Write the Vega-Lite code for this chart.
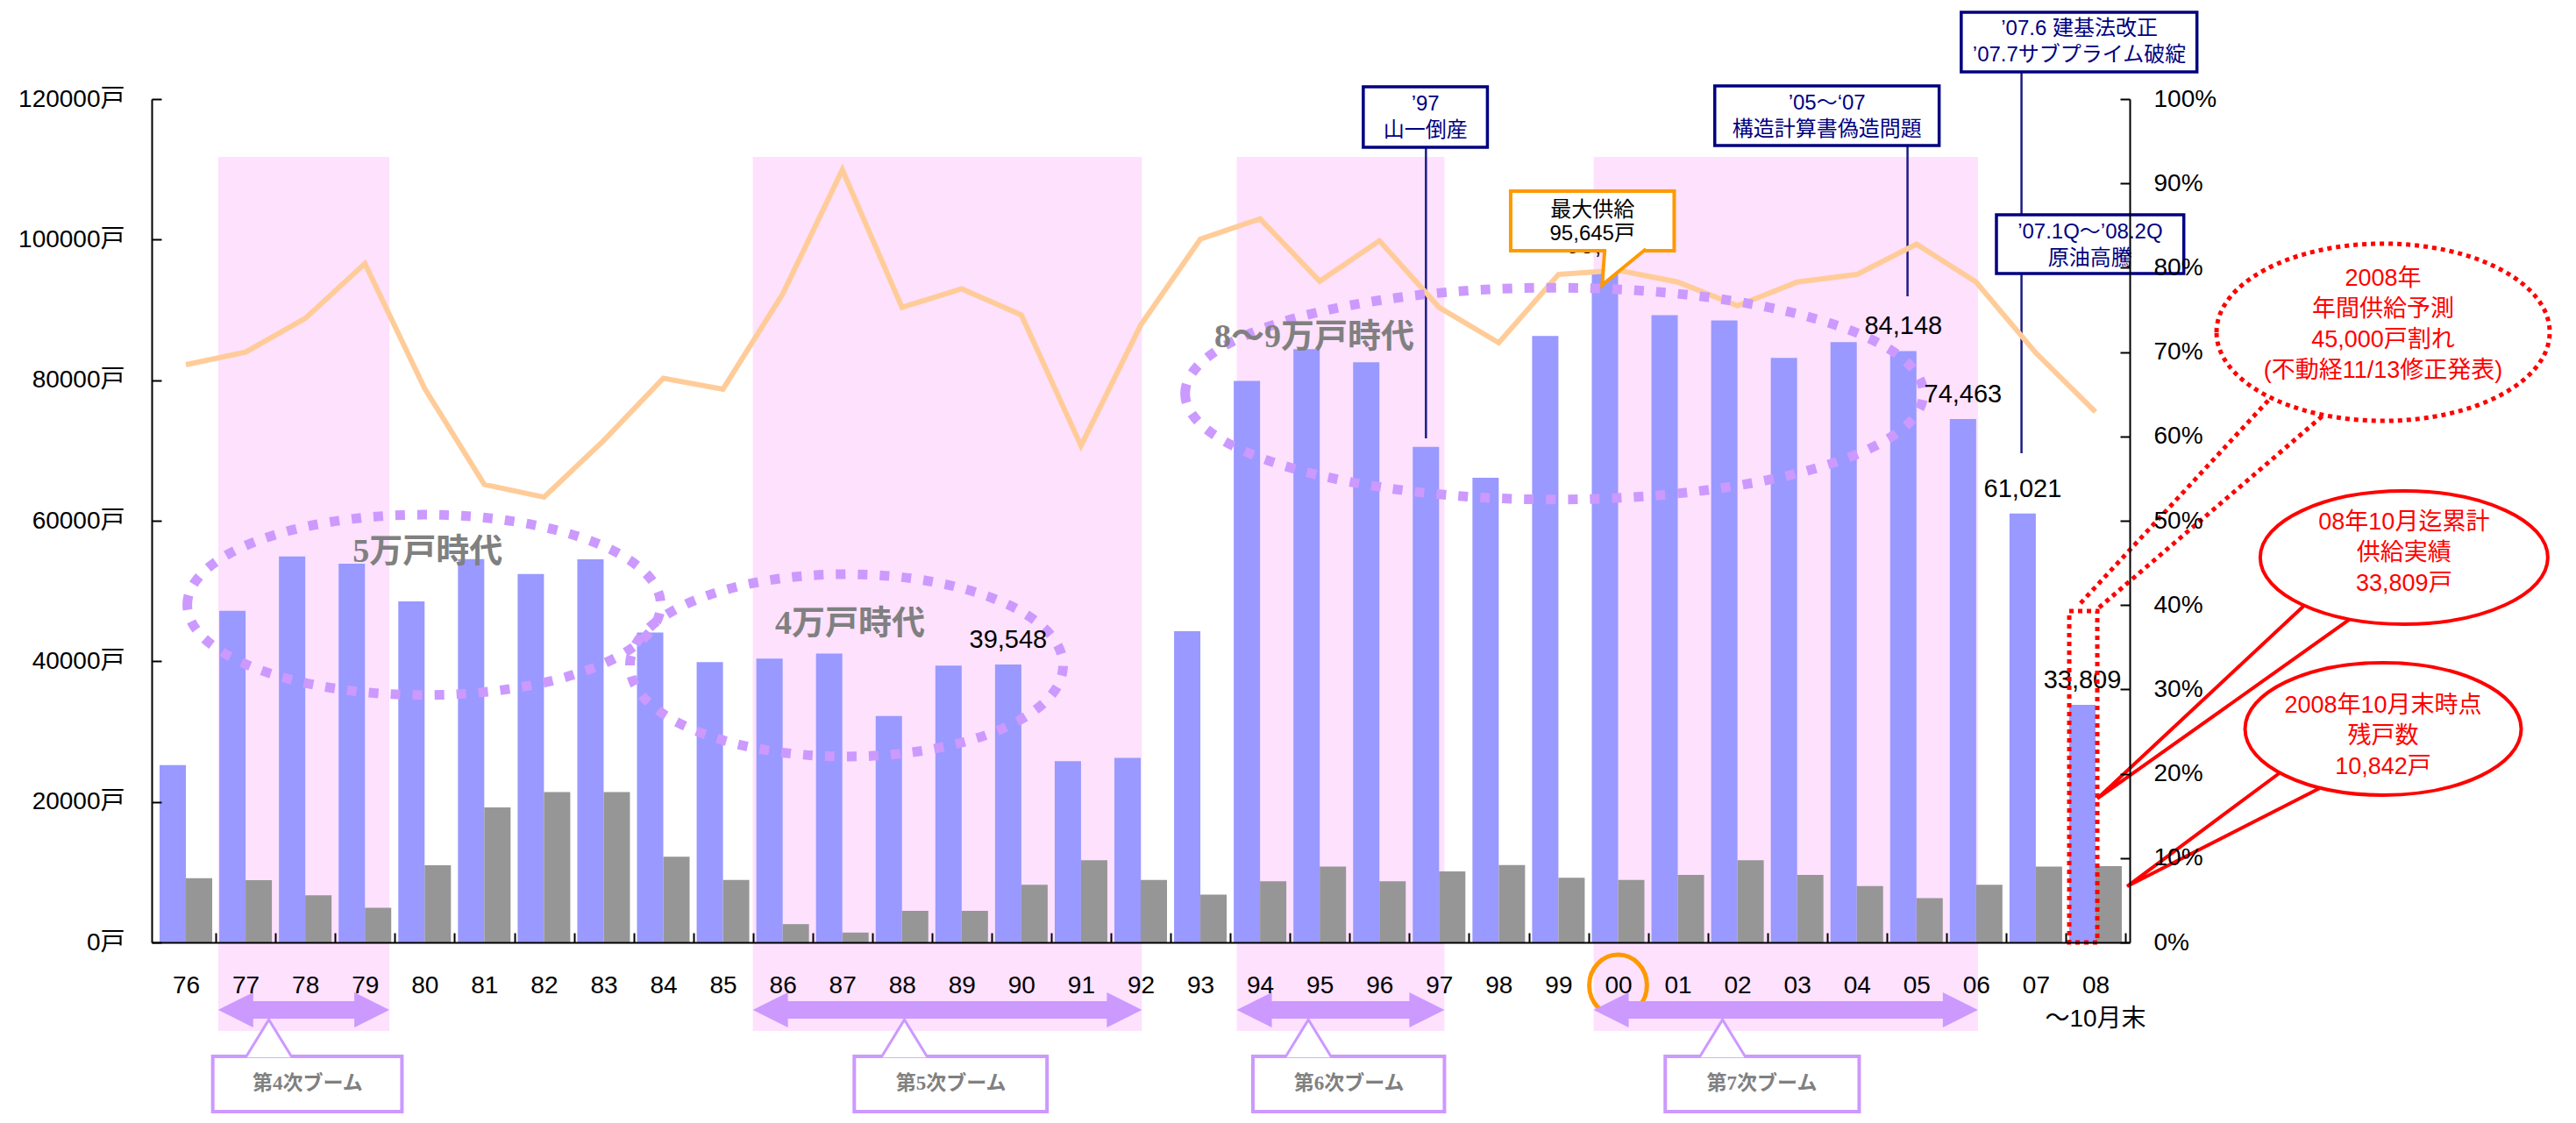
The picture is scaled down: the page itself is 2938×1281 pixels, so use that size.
{
  "$schema": "https://vega.github.io/schema/vega-lite/v6.json",
  "width": 2256,
  "height": 962,
  "autosize": {"type": "none"},
  "padding": {"left": 173, "top": 113, "right": 509, "bottom": 206},
  "background": "white",
  "config": {
    "view": {"stroke": null},
    "font": "Liberation Sans",
    "axis": {"labelFont": "Liberation Sans, Noto Sans CJK JP", "labelColor": "black", "domainColor": "black", "tickColor": "black", "domainWidth": 2, "tickWidth": 2, "grid": false}
  },
  "datasets": {
    "main": [
      {"year": 1976, "supply": 25230, "stock": 9150, "rate": 68.5},
      {"year": 1977, "supply": 47180, "stock": 8860, "rate": 70.0},
      {"year": 1978, "supply": 54910, "stock": 6690, "rate": 74.0},
      {"year": 1979, "supply": 53890, "stock": 4930, "rate": 80.5},
      {"year": 1980, "supply": 48530, "stock": 10980, "rate": 65.7},
      {"year": 1981, "supply": 54550, "stock": 19210, "rate": 54.3},
      {"year": 1982, "supply": 52420, "stock": 21400, "rate": 52.8},
      {"year": 1983, "supply": 54500, "stock": 21400, "rate": 59.5},
      {"year": 1984, "supply": 44100, "stock": 12200, "rate": 66.9},
      {"year": 1985, "supply": 39900, "stock": 8900, "rate": 65.6},
      {"year": 1986, "supply": 40400, "stock": 2600, "rate": 76.9},
      {"year": 1987, "supply": 41100, "stock": 1400, "rate": 91.6},
      {"year": 1988, "supply": 32200, "stock": 4500, "rate": 75.3},
      {"year": 1989, "supply": 39400, "stock": 4500, "rate": 77.5},
      {"year": 1990, "supply": 39548, "stock": 8200, "rate": 74.4, "label": "39,548"},
      {"year": 1991, "supply": 25775, "stock": 11700, "rate": 58.9},
      {"year": 1992, "supply": 26248, "stock": 8900, "rate": 73.2},
      {"year": 1993, "supply": 44270, "stock": 6800, "rate": 83.4},
      {"year": 1994, "supply": 79897, "stock": 8700, "rate": 85.8},
      {"year": 1995, "supply": 84432, "stock": 10800, "rate": 78.4},
      {"year": 1996, "supply": 82536, "stock": 8700, "rate": 83.2},
      {"year": 1997, "supply": 70516, "stock": 10100, "rate": 75.3},
      {"year": 1998, "supply": 66117, "stock": 11000, "rate": 71.1},
      {"year": 1999, "supply": 86297, "stock": 9200, "rate": 79.2},
      {"year": 2000, "supply": 95645, "stock": 8900, "rate": 79.7, "label": "95,645"},
      {"year": 2001, "supply": 89256, "stock": 9600, "rate": 78.3},
      {"year": 2002, "supply": 88516, "stock": 11700, "rate": 75.5},
      {"year": 2003, "supply": 83183, "stock": 9600, "rate": 78.3},
      {"year": 2004, "supply": 85429, "stock": 8000, "rate": 79.2},
      {"year": 2005, "supply": 84148, "stock": 6300, "rate": 82.8, "label": "84,148"},
      {"year": 2006, "supply": 74463, "stock": 8200, "rate": 78.3, "label": "74,463"},
      {"year": 2007, "supply": 61021, "stock": 10800, "rate": 69.9, "label": "61,021"},
      {"year": 2008, "supply": 33809, "stock": 10842, "rate": 62.9, "label": "33,809"}
    ],
    "booms": [
      {"boom": "第4次ブーム", "year": 1976.54, "year2": 1979.41},
      {"boom": "第5次ブーム", "year": 1985.5, "year2": 1992.02},
      {"boom": "第6次ブーム", "year": 1993.61, "year2": 1997.09},
      {"boom": "第7次ブーム", "year": 1999.59, "year2": 2006.03}
    ],
    "boomBoxes": [
      {"boom": "第4次ブーム", "year": 1976.45, "year2": 1979.62, "mid": 1978.04, "apex": 1977.39},
      {"boom": "第5次ブーム", "year": 1987.2, "year2": 1990.43, "mid": 1988.82, "apex": 1988.04},
      {"boom": "第6次ブーム", "year": 1993.88, "year2": 1997.09, "mid": 1995.49, "apex": 1994.81},
      {"boom": "第7次ブーム", "year": 2000.79, "year2": 2004.04, "mid": 2002.41, "apex": 2001.75}
    ],
    "eventLines": [
      {"event": "97", "year": 1996.78, "value": 113140, "value2": 71730},
      {"event": "05-07", "year": 2004.85, "value": 113390, "value2": 91930},
      {"event": "07", "year": 2006.76, "value": 123870, "value2": 69600}
    ],
    "events": [
      {"text": "’97\n山一倒産", "year": 1995.73, "year2": 1997.81, "value": 121750, "value2": 113140, "mid": 1996.77, "tv": 119250},
      {"text": "’05～‘07\n構造計算書偽造問題", "year": 2001.62, "year2": 2005.38, "value": 121870, "value2": 113390, "mid": 2003.5, "tv": 119380},
      {"text": "’07.6  建基法改正\n’07.7サブプライム破綻", "year": 2005.75, "year2": 2009.7, "value": 132350, "value2": 123870, "mid": 2007.73, "tv": 129980},
      {"text": "’07.1Q～’08.2Q\n原油高騰", "year": 2006.34, "year2": 2009.48, "value": 103530, "value2": 95180, "mid": 2007.91, "tv": 101040}
    ],
    "maxBox": [
      {"text": "最大供給\n95,645戸", "year": 1998.2, "year2": 2000.94, "value": 106900, "value2": 98420, "mid": 1999.57, "tv": 104160, "px": 2000.1, "pv": 95990}
    ],
    "redDots": [
      {"seg": "a", "i": 0, "year": 2007.75, "value": 48275},
      {"seg": "a", "i": 1, "year": 2010.96, "value": 77710},
      {"seg": "b", "i": 0, "year": 2008.06, "value": 47650},
      {"seg": "b", "i": 1, "year": 2011.83, "value": 75090}
    ],
    "tails": [
      {"seg": "t1", "i": 0, "year": 2011.54, "value": 48275},
      {"seg": "t1", "i": 1, "year": 2008.03, "value": 20460},
      {"seg": "t1", "i": 2, "year": 2012.27, "value": 46030},
      {"seg": "t2", "i": 0, "year": 2011.1, "value": 24200},
      {"seg": "t2", "i": 1, "year": 2008.53, "value": 7980},
      {"seg": "t2", "i": 2, "year": 2011.76, "value": 21950}
    ]
  },
  "layer": [
    {
      "data": {"name": "booms"},
      "mark": {"type": "rect", "color": "#FDE1FD"},
      "encoding": {
        "x": {"field": "year", "type": "quantitative", "scale": {"domain": [1975.5, 2008.5], "nice": false, "zero": false}},
        "x2": {"field": "year2"},
        "y": {"datum": -12600, "type": "quantitative", "scale": {"domain": [0, 120000], "nice": false, "zero": false}, "axis": null},
        "y2": {"datum": 111770}
      }
    },
    {
      "data": {"name": "eventLines"},
      "mark": {"type": "rule", "color": "#1C1C84", "strokeWidth": 2.5},
      "encoding": {
        "x": {"field": "year", "type": "quantitative", "scale": {"domain": [1975.5, 2008.5], "nice": false, "zero": false}},
        "y": {"field": "value", "type": "quantitative", "scale": {"domain": [0, 120000], "nice": false, "zero": false}, "axis": null},
        "y2": {"field": "value2"}
      }
    },
    {
      "data": {"name": "main"},
      "mark": {"type": "bar", "color": "#9999FF", "width": 30, "xOffset": -15},
      "encoding": {
        "x": {
          "field": "year", "type": "quantitative",
          "scale": {"domain": [1975.5, 2008.5], "nice": false, "zero": false},
          "axis": {
            "orient": "bottom",
            "values": [1976,1977,1978,1979,1980,1981,1982,1983,1984,1985,1986,1987,1988,1989,1990,1991,1992,1993,1994,1995,1996,1997,1998,1999,2000,2001,2002,2003,2004,2005,2006,2007,2008],
            "labelExpr": "slice('0' + (datum.value % 100), -2)",
            "title": null, "tickOffset": 34.18, "labelOffset": -34.18, "tickSize": -11,
            "labelPadding": 60, "labelBaseline": "middle", "labelFontSize": 28,
            "labelFlush": false, "labelOverlap": false, "zindex": 1
          }
        },
        "y": {
          "field": "supply", "type": "quantitative",
          "scale": {"domain": [0, 120000], "nice": false, "zero": false},
          "axis": {"orient": "left", "values": [0, 20000, 40000, 60000, 80000, 100000, 120000], "labelExpr": "datum.value + '戸'", "title": null, "tickSize": -11, "labelPadding": 42, "labelFontSize": 28, "zindex": 1}
        }
      }
    },
    {
      "data": {"name": "main"},
      "mark": {"type": "bar", "color": "#969696", "width": 30, "xOffset": 15},
      "encoding": {
        "x": {"field": "year", "type": "quantitative", "scale": {"domain": [1975.5, 2008.5], "nice": false, "zero": false}},
        "y": {"field": "stock", "type": "quantitative", "scale": {"domain": [0, 120000], "nice": false, "zero": false}, "axis": null}
      }
    },
    {
      "data": {"name": "main"},
      "mark": {"type": "line", "color": "#FFCC99", "strokeWidth": 6},
      "encoding": {
        "x": {"field": "year", "type": "quantitative", "scale": {"domain": [1975.5, 2008.5], "nice": false, "zero": false}},
        "y": {
          "field": "rate", "type": "quantitative",
          "scale": {"domain": [0, 100], "nice": false, "zero": false},
          "axis": {"orient": "right", "values": [0,10,20,30,40,50,60,70,80,90,100], "labelExpr": "datum.value + '%'", "title": null, "tickSize": -11, "labelPadding": 38, "labelFontSize": 28, "zindex": 1}
        }
      }
    },
    {
      "data": {"values": [{"year": 1979.99, "value": 48030}]},
      "mark": {"type": "point", "shape": "M-1,0C-1,-0.2104,-0.5523,-0.381,0,-0.381C0.5523,-0.381,1,-0.2104,1,0C1,0.2104,0.5523,0.381,0,0.381C-0.5523,0.381,-1,0.2104,-1,0Z", "size": 291600, "filled": false, "stroke": "#CC99FF", "strokeWidth": 11, "strokeDash": [11, 14], "opacity": 1},
      "encoding": {
        "x": {"field": "year", "type": "quantitative", "scale": {"domain": [1975.5, 2008.5], "nice": false, "zero": false}},
        "y": {"field": "value", "type": "quantitative", "scale": {"domain": [0, 120000], "nice": false, "zero": false}, "axis": null}
      }
    },
    {
      "data": {"values": [{"year": 1987.07, "value": 39420}]},
      "mark": {"type": "point", "shape": "M-1,0C-1,-0.2325,-0.5523,-0.421,0,-0.421C0.5523,-0.421,1,-0.2325,1,0C1,0.2325,0.5523,0.421,0,0.421C-0.5523,0.421,-1,0.2325,-1,0Z", "size": 244036, "filled": false, "stroke": "#CC99FF", "strokeWidth": 11, "strokeDash": [11, 14], "opacity": 1},
      "encoding": {
        "x": {"field": "year", "type": "quantitative", "scale": {"domain": [1975.5, 2008.5], "nice": false, "zero": false}},
        "y": {"field": "value", "type": "quantitative", "scale": {"domain": [0, 120000], "nice": false, "zero": false}, "axis": null}
      }
    },
    {
      "data": {"values": [{"year": 1998.93, "value": 78090}]},
      "mark": {"type": "point", "shape": "M-1,0C-1,-0.1585,-0.5523,-0.287,0,-0.287C0.5523,-0.287,1,-0.1585,1,0C1,0.1585,0.5523,0.287,0,0.287C-0.5523,0.287,-1,0.1585,-1,0Z", "size": 708964, "filled": false, "stroke": "#CC99FF", "strokeWidth": 11, "strokeDash": [11, 14], "opacity": 1},
      "encoding": {
        "x": {"field": "year", "type": "quantitative", "scale": {"domain": [1975.5, 2008.5], "nice": false, "zero": false}},
        "y": {"field": "value", "type": "quantitative", "scale": {"domain": [0, 120000], "nice": false, "zero": false}, "axis": null}
      }
    },
    {
      "data": {"values": [
        {"year": 1980.05, "value": 55510, "text": "5万戸時代"},
        {"year": 1987.13, "value": 45280, "text": "4万戸時代"},
        {"year": 1994.91, "value": 86070, "text": "8～9万戸時代"}
      ]},
      "mark": {"type": "text", "font": "Liberation Serif, Noto Sans CJK JP", "fontWeight": "bold", "fontSize": 38, "color": "#808080", "baseline": "middle"},
      "encoding": {
        "x": {"field": "year", "type": "quantitative", "scale": {"domain": [1975.5, 2008.5], "nice": false, "zero": false}},
        "y": {"field": "value", "type": "quantitative", "scale": {"domain": [0, 120000], "nice": false, "zero": false}, "axis": null},
        "text": {"field": "text"}
      }
    },
    {
      "data": {"name": "main"},
      "transform": [{"filter": "isValid(datum.label)"}],
      "mark": {"type": "text", "font": "Liberation Sans", "fontSize": 29, "color": "black", "baseline": "alphabetic", "dx": -15, "dy": -19},
      "encoding": {
        "x": {"field": "year", "type": "quantitative", "scale": {"domain": [1975.5, 2008.5], "nice": false, "zero": false}},
        "y": {"field": "supply", "type": "quantitative", "scale": {"domain": [0, 120000], "nice": false, "zero": false}, "axis": null},
        "text": {"field": "label"}
      }
    },
    {
      "data": {"name": "events"},
      "mark": {"type": "rect", "fill": "white", "stroke": "#000080", "strokeWidth": 3.5},
      "encoding": {
        "x": {"field": "year", "type": "quantitative", "scale": {"domain": [1975.5, 2008.5], "nice": false, "zero": false}},
        "x2": {"field": "year2"},
        "y": {"field": "value", "type": "quantitative", "scale": {"domain": [0, 120000], "nice": false, "zero": false}, "axis": null},
        "y2": {"field": "value2"}
      }
    },
    {
      "data": {"name": "events"},
      "mark": {"type": "text", "lineBreak": "\n", "font": "Liberation Sans, Noto Sans CJK JP", "fontSize": 24, "lineHeight": 30, "color": "#000080", "baseline": "middle"},
      "encoding": {
        "x": {"field": "mid", "type": "quantitative", "scale": {"domain": [1975.5, 2008.5], "nice": false, "zero": false}},
        "y": {"field": "tv", "type": "quantitative", "scale": {"domain": [0, 120000], "nice": false, "zero": false}, "axis": null},
        "text": {"field": "text"}
      }
    },
    {
      "data": {"name": "maxBox"},
      "mark": {"type": "rect", "fill": "white", "stroke": "#FF9900", "strokeWidth": 4},
      "encoding": {
        "x": {"field": "year", "type": "quantitative", "scale": {"domain": [1975.5, 2008.5], "nice": false, "zero": false}},
        "x2": {"field": "year2"},
        "y": {"field": "value", "type": "quantitative", "scale": {"domain": [0, 120000], "nice": false, "zero": false}, "axis": null},
        "y2": {"field": "value2"}
      }
    },
    {
      "data": {"name": "maxBox"},
      "mark": {"type": "point", "shape": "M-0.88,-0.86L-1,0.78L1,-0.86", "size": 2500, "filled": true, "fill": "white", "stroke": "#FF9900", "strokeWidth": 4, "opacity": 1},
      "encoding": {
        "x": {"field": "px", "type": "quantitative", "scale": {"domain": [1975.5, 2008.5], "nice": false, "zero": false}},
        "y": {"field": "pv", "type": "quantitative", "scale": {"domain": [0, 120000], "nice": false, "zero": false}, "axis": null}
      }
    },
    {
      "data": {"name": "maxBox"},
      "mark": {"type": "text", "lineBreak": "\n", "font": "Liberation Sans, Noto Sans CJK JP", "fontSize": 24, "lineHeight": 27, "color": "black", "baseline": "middle"},
      "encoding": {
        "x": {"field": "mid", "type": "quantitative", "scale": {"domain": [1975.5, 2008.5], "nice": false, "zero": false}},
        "y": {"field": "tv", "type": "quantitative", "scale": {"domain": [0, 120000], "nice": false, "zero": false}, "axis": null},
        "text": {"field": "text"}
      }
    },
    {
      "data": {"values": [{"year": 2000, "value": -6110}]},
      "mark": {"type": "point", "shape": "M-0.94,0C-0.94,-0.5523,-0.5192,-1,0,-1C0.5192,-1,0.94,-0.5523,0.94,0C0.94,0.5523,0.5192,1,0,1C-0.5192,1,-0.94,0.5523,-0.94,0Z", "size": 4900, "filled": false, "stroke": "#FF9900", "strokeWidth": 5, "opacity": 1},
      "encoding": {
        "x": {"field": "year", "type": "quantitative", "scale": {"domain": [1975.5, 2008.5], "nice": false, "zero": false}},
        "y": {"field": "value", "type": "quantitative", "scale": {"domain": [0, 120000], "nice": false, "zero": false}, "axis": null}
      }
    },
    {
      "data": {"values": [{"year": 2008.0, "value": -10980, "text": "～10月末"}]},
      "mark": {"type": "text", "font": "Liberation Sans, Noto Sans CJK JP", "fontSize": 28, "color": "black", "baseline": "middle"},
      "encoding": {
        "x": {"field": "year", "type": "quantitative", "scale": {"domain": [1975.5, 2008.5], "nice": false, "zero": false}},
        "y": {"field": "value", "type": "quantitative", "scale": {"domain": [0, 120000], "nice": false, "zero": false}, "axis": null},
        "text": {"field": "text"}
      }
    },
    {
      "data": {"name": "booms"},
      "mark": {"type": "rule", "color": "#CC99FF", "strokeWidth": 20, "xOffset": 25, "x2Offset": -25},
      "encoding": {
        "x": {"field": "year", "type": "quantitative", "scale": {"domain": [1975.5, 2008.5], "nice": false, "zero": false}},
        "x2": {"field": "year2"},
        "y": {"datum": -9600, "type": "quantitative", "scale": {"domain": [0, 120000], "nice": false, "zero": false}, "axis": null}
      }
    },
    {
      "data": {"name": "booms"},
      "mark": {"type": "point", "shape": "M0,0L2,-1L2,1Z", "size": 1600, "filled": true, "color": "#CC99FF", "opacity": 1, "strokeWidth": 0},
      "encoding": {
        "x": {"field": "year", "type": "quantitative", "scale": {"domain": [1975.5, 2008.5], "nice": false, "zero": false}},
        "y": {"datum": -9600, "type": "quantitative", "scale": {"domain": [0, 120000], "nice": false, "zero": false}, "axis": null}
      }
    },
    {
      "data": {"name": "booms"},
      "mark": {"type": "point", "shape": "M0,0L-2,-1L-2,1Z", "size": 1600, "filled": true, "color": "#CC99FF", "opacity": 1, "strokeWidth": 0},
      "encoding": {
        "x": {"field": "year2", "type": "quantitative", "scale": {"domain": [1975.5, 2008.5], "nice": false, "zero": false}},
        "y": {"datum": -9600, "type": "quantitative", "scale": {"domain": [0, 120000], "nice": false, "zero": false}, "axis": null}
      }
    },
    {
      "data": {"name": "boomBoxes"},
      "mark": {"type": "rect", "fill": "white", "stroke": "#CC99FF", "strokeWidth": 4},
      "encoding": {
        "x": {"field": "year", "type": "quantitative", "scale": {"domain": [1975.5, 2008.5], "nice": false, "zero": false}},
        "x2": {"field": "year2"},
        "y": {"datum": -16210, "type": "quantitative", "scale": {"domain": [0, 120000], "nice": false, "zero": false}, "axis": null},
        "y2": {"datum": -24070}
      }
    },
    {
      "data": {"name": "boomBoxes"},
      "mark": {"type": "point", "shape": "M-1,0.84L0,-0.79L1,0.84", "size": 2809, "filled": true, "fill": "white", "stroke": "#CC99FF", "strokeWidth": 3, "opacity": 1},
      "encoding": {
        "x": {"field": "apex", "type": "quantitative", "scale": {"domain": [1975.5, 2008.5], "nice": false, "zero": false}},
        "y": {"datum": -13600, "type": "quantitative", "scale": {"domain": [0, 120000], "nice": false, "zero": false}, "axis": null}
      }
    },
    {
      "data": {"name": "boomBoxes"},
      "mark": {"type": "text", "font": "Liberation Serif, Noto Sans CJK JP", "fontWeight": "bold", "fontSize": 23, "color": "#808080", "baseline": "middle"},
      "encoding": {
        "x": {"field": "mid", "type": "quantitative", "scale": {"domain": [1975.5, 2008.5], "nice": false, "zero": false}},
        "y": {"datum": -20080, "type": "quantitative", "scale": {"domain": [0, 120000], "nice": false, "zero": false}, "axis": null},
        "text": {"field": "boom"}
      }
    },
    {
      "data": {"values": [{"year": 2007.56, "year2": 2008.03, "value": 47150, "value2": 0}]},
      "mark": {"type": "rect", "fillOpacity": 0, "stroke": "#FF0000", "strokeWidth": 5, "strokeDash": [5, 5]},
      "encoding": {
        "x": {"field": "year", "type": "quantitative", "scale": {"domain": [1975.5, 2008.5], "nice": false, "zero": false}},
        "x2": {"field": "year2"},
        "y": {"field": "value", "type": "quantitative", "scale": {"domain": [0, 120000], "nice": false, "zero": false}, "axis": null},
        "y2": {"field": "value2"}
      }
    },
    {
      "data": {"name": "redDots"},
      "mark": {"type": "line", "color": "#FF0000", "strokeWidth": 5, "strokeDash": [5, 5]},
      "encoding": {
        "x": {"field": "year", "type": "quantitative", "scale": {"domain": [1975.5, 2008.5], "nice": false, "zero": false}},
        "y": {"field": "value", "type": "quantitative", "scale": {"domain": [0, 120000], "nice": false, "zero": false}, "axis": null},
        "detail": {"field": "seg"},
        "order": {"field": "i"}
      }
    },
    {
      "data": {"name": "tails"},
      "mark": {"type": "line", "color": "#FF0000", "strokeWidth": 4},
      "encoding": {
        "x": {"field": "year", "type": "quantitative", "scale": {"domain": [1975.5, 2008.5], "nice": false, "zero": false}},
        "y": {"field": "value", "type": "quantitative", "scale": {"domain": [0, 120000], "nice": false, "zero": false}, "axis": null},
        "detail": {"field": "seg"},
        "order": {"field": "i"}
      }
    },
    {
      "data": {"values": [{"year": 2012.82, "value": 86820}]},
      "mark": {"type": "point", "shape": "M-1,0C-1,-0.2938,-0.5523,-0.532,0,-0.532C0.5523,-0.532,1,-0.2938,1,0C1,0.2938,0.5523,0.532,0,0.532C-0.5523,0.532,-1,0.2938,-1,0Z", "size": 144400, "filled": true, "fill": "white", "stroke": "#FF0000", "strokeWidth": 5, "strokeDash": [5, 5], "opacity": 1},
      "encoding": {
        "x": {"field": "year", "type": "quantitative", "scale": {"domain": [1975.5, 2008.5], "nice": false, "zero": false}},
        "y": {"field": "value", "type": "quantitative", "scale": {"domain": [0, 120000], "nice": false, "zero": false}, "axis": null}
      }
    },
    {
      "data": {"values": [{"year": 2013.17, "value": 54760}]},
      "mark": {"type": "point", "shape": "M-1,0C-1,-0.2557,-0.5523,-0.463,0,-0.463C0.5523,-0.463,1,-0.2557,1,0C1,0.2557,0.5523,0.463,0,0.463C-0.5523,0.463,-1,0.2557,-1,0Z", "size": 107584, "filled": true, "fill": "white", "stroke": "#FF0000", "strokeWidth": 4, "opacity": 1},
      "encoding": {
        "x": {"field": "year", "type": "quantitative", "scale": {"domain": [1975.5, 2008.5], "nice": false, "zero": false}},
        "y": {"field": "value", "type": "quantitative", "scale": {"domain": [0, 120000], "nice": false, "zero": false}, "axis": null}
      }
    },
    {
      "data": {"values": [{"year": 2012.82, "value": 30375}]},
      "mark": {"type": "point", "shape": "M-1,0C-1,-0.2645,-0.5523,-0.479,0,-0.479C0.5523,-0.479,1,-0.2645,1,0C1,0.2645,0.5523,0.479,0,0.479C-0.5523,0.479,-1,0.2645,-1,0Z", "size": 99225, "filled": true, "fill": "white", "stroke": "#FF0000", "strokeWidth": 4, "opacity": 1},
      "encoding": {
        "x": {"field": "year", "type": "quantitative", "scale": {"domain": [1975.5, 2008.5], "nice": false, "zero": false}},
        "y": {"field": "value", "type": "quantitative", "scale": {"domain": [0, 120000], "nice": false, "zero": false}, "axis": null}
      }
    },
    {
      "data": {"values": [
        {"year": 2012.82, "value": 94430, "text": "2008年\n年間供給予測\n45,000戸割れ\n(不動経11/13修正発表)"},
        {"year": 2013.17, "value": 59750, "text": "08年10月迄累計\n供給実績\n33,809戸"},
        {"year": 2012.82, "value": 33680, "text": "2008年10月末時点\n残戸数\n10,842戸"}
      ]},
      "mark": {"type": "text", "lineBreak": "\n", "font": "Liberation Sans, Noto Sans CJK JP", "fontSize": 27, "lineHeight": 35, "color": "#FF0000", "baseline": "middle"},
      "encoding": {
        "x": {"field": "year", "type": "quantitative", "scale": {"domain": [1975.5, 2008.5], "nice": false, "zero": false}},
        "y": {"field": "value", "type": "quantitative", "scale": {"domain": [0, 120000], "nice": false, "zero": false}, "axis": null},
        "text": {"field": "text"}
      }
    }
  ],
  "resolve": {"scale": {"y": "independent"}}
}
